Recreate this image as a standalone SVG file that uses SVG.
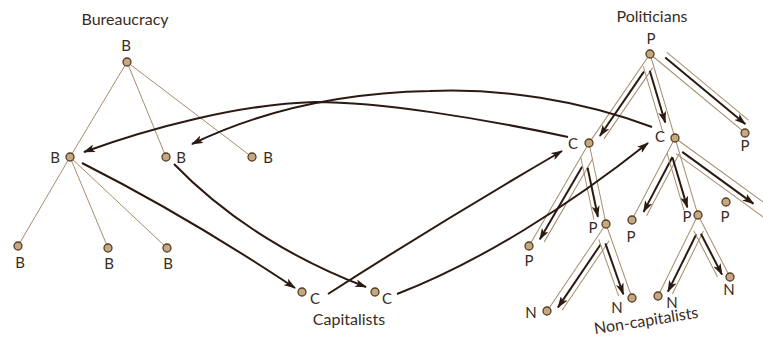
<svg xmlns="http://www.w3.org/2000/svg" width="763" height="338" viewBox="0 0 763 338">
<defs>
<marker id="ah" viewBox="0 0 12 8" refX="11" refY="4" markerWidth="12" markerHeight="8" markerUnits="userSpaceOnUse" orient="auto">
<path d="M0,0 L12,4 L0,8 L3,4 z" fill="#2b1a12"/>
</marker>
<style>
.thin{stroke:#a68d6c;stroke-width:1;fill:none}
.arr{stroke:#2b1a12;stroke-width:2;fill:none;marker-end:url(#ah)}
.nd{fill:#c3a982;stroke:#5a3c22;stroke-width:1.3}
text{font-family:Lato,"Open Sans","Liberation Sans",sans-serif;fill:#3b2c22;font-size:15px;text-anchor:middle}
.ttl{font-size:16px}
</style>
</defs>
<rect width="763" height="338" fill="#fff"/>

<g id="connectors">
<!-- bureaucracy tree -->
<line class="thin" x1="127" y1="62" x2="70" y2="157"/>
<line class="thin" x1="127" y1="62" x2="166" y2="157"/>
<line class="thin" x1="127" y1="62" x2="252" y2="157"/>
<line class="thin" x1="70" y1="157" x2="18" y2="246"/>
<line class="thin" x1="70" y1="157" x2="108" y2="248"/>
<line class="thin" x1="70" y1="157" x2="167" y2="248"/>
<!-- politician tree (tubes with arrows) -->
<g transform="translate(650,54) rotate(124.4)">
<line class="thin" x1="0" y1="0" x2="108" y2="0"/><line class="thin" x1="10" y1="-10" x2="96" y2="-10"/><line class="arr" x1="18" y1="-5" x2="96" y2="-5"/></g>
<g transform="translate(650,54) rotate(73.4)">
<line class="thin" x1="0" y1="0" x2="88" y2="0"/><line class="thin" x1="10" y1="10" x2="78" y2="10"/><line class="arr" x1="16" y1="5" x2="70" y2="5"/></g>
<g transform="translate(650,54) rotate(39.7)">
<line class="thin" x1="0" y1="0" x2="124" y2="0"/><line class="thin" x1="12" y1="-12" x2="118" y2="-12"/><line class="arr" x1="14" y1="-7" x2="118" y2="-7"/></g>
<g transform="translate(589,143) rotate(120.2)">
<line class="thin" x1="0" y1="0" x2="119" y2="0"/><line class="thin" x1="12" y1="-11" x2="108" y2="-11"/><line class="arr" x1="24" y1="-6" x2="108" y2="-6"/></g>
<g transform="translate(589,143) rotate(78.1)">
<line class="thin" x1="0" y1="0" x2="83" y2="0"/><line class="thin" x1="12" y1="11" x2="76" y2="11"/><line class="arr" x1="24" y1="6.5" x2="74" y2="6.5"/></g>
<g transform="translate(675,138) rotate(117.7)">
<line class="thin" x1="0" y1="0" x2="93" y2="0"/><line class="thin" x1="12" y1="-11" x2="82" y2="-11"/><line class="arr" x1="18" y1="-6.5" x2="80" y2="-6.5"/></g>
<g transform="translate(675,138) rotate(73.4)">
<line class="thin" x1="0" y1="0" x2="80" y2="0"/><line class="thin" x1="12" y1="12" x2="72" y2="12"/><line class="arr" x1="18" y1="8" x2="70" y2="8"/></g>
<g transform="translate(675,138) rotate(36)">
<line class="thin" x1="0" y1="0" x2="120" y2="0"/><line class="thin" x1="10" y1="12" x2="120" y2="12"/><line class="arr" x1="14" y1="7" x2="102" y2="7"/></g>
<g transform="translate(606,224) rotate(124.1)">
<line class="thin" x1="0" y1="0" x2="105" y2="0"/><line class="thin" x1="12" y1="-12" x2="96" y2="-12"/><line class="arr" x1="20" y1="-7" x2="96" y2="-7"/></g>
<g transform="translate(606,224) rotate(70.6)">
<line class="thin" x1="0" y1="0" x2="78" y2="0"/><line class="thin" x1="12" y1="12" x2="72" y2="12"/><line class="arr" x1="18" y1="7" x2="72" y2="7"/></g>
<g transform="translate(698,215) rotate(116.3)">
<line class="thin" x1="0" y1="0" x2="90" y2="0"/><line class="thin" x1="12" y1="-12" x2="82" y2="-12"/><line class="arr" x1="18" y1="-7" x2="82" y2="-7"/></g>
<g transform="translate(698,215) rotate(62.7)">
<line class="thin" x1="0" y1="0" x2="70" y2="0"/><line class="thin" x1="12" y1="11" x2="64" y2="11"/><line class="arr" x1="18" y1="6" x2="64" y2="6"/></g>
<!-- cross-group arrows -->
<path class="arr" d="M568,137 C480,118 380,102 315,102 C240,104 150,128 84,152"/>
<path class="arr" d="M652,127 C580,100 500,88 430,91 C330,93 250,116 192,144"/>
<path class="arr" d="M82,163 Q185,215 295,288"/>
<path class="arr" d="M174,164 C230,222 300,262 366,287"/>
<path class="arr" d="M328,294 Q440,222 562,151"/>
<path class="arr" d="M397,294 C480,262 570,205 648,143"/>
</g>

<g id="bureaucracy-label"><text class="ttl" x="125" y="25">Bureaucracy</text></g>
<g id="b-top"><circle class="nd" cx="127" cy="62" r="4"/><text x="126" y="51">B</text></g>
<g id="b-mid1"><circle class="nd" cx="70" cy="157" r="4"/><text x="55" y="163">B</text></g>
<g id="b-mid2"><circle class="nd" cx="166" cy="157" r="4"/><text x="181" y="163">B</text></g>
<g id="b-mid3"><circle class="nd" cx="252" cy="157" r="4"/><text x="268" y="163">B</text></g>
<g id="b-low1"><circle class="nd" cx="18" cy="246" r="4"/><text x="20" y="268">B</text></g>
<g id="b-low2"><circle class="nd" cx="108" cy="248" r="4"/><text x="109" y="269">B</text></g>
<g id="b-low3"><circle class="nd" cx="167" cy="248" r="4"/><text x="168" y="269">B</text></g>

<g id="c-cap1"><circle class="nd" cx="302" cy="292" r="4"/><text x="315" y="304">C</text></g>
<g id="c-cap2"><circle class="nd" cx="375" cy="292" r="4"/><text x="387" y="304">C</text></g>
<g id="capitalists-label"><text class="ttl" x="349" y="325">Capitalists</text></g>

<g id="politicians-label"><text class="ttl" x="652" y="22">Politicians</text></g>
<g id="p-top"><circle class="nd" cx="650" cy="54" r="4"/><text x="651" y="44">P</text></g>
<g id="c-pol1"><circle class="nd" cx="589" cy="143" r="4"/><text x="573" y="149">C</text></g>
<g id="c-pol2"><circle class="nd" cx="675" cy="138" r="4"/><text x="660" y="142">C</text></g>
<g id="p-right"><circle class="nd" cx="745" cy="133" r="4"/><text x="745" y="151">P</text></g>
<g id="p-1"><circle class="nd" cx="529" cy="246" r="4"/><text x="529" y="266">P</text></g>
<g id="p-2"><circle class="nd" cx="606" cy="224" r="4"/><text x="593" y="233">P</text></g>
<g id="p-3"><circle class="nd" cx="632" cy="220" r="4"/><text x="631" y="242">P</text></g>
<g id="p-4"><circle class="nd" cx="698" cy="215" r="4"/><text x="687" y="222">P</text></g>
<g id="p-5"><circle class="nd" cx="726" cy="202" r="4"/><text x="725" y="222">P</text></g>
<g id="n-1"><circle class="nd" cx="547" cy="311" r="4"/><text x="531" y="318">N</text></g>
<g id="n-2"><circle class="nd" cx="632" cy="298" r="4"/><text x="617" y="313">N</text></g>
<g id="n-3"><circle class="nd" cx="658" cy="296" r="4"/><text x="672" y="308">N</text></g>
<g id="n-4"><circle class="nd" cx="730" cy="277" r="4"/><text x="729" y="295">N</text></g>
<g id="noncap-label"><text class="ttl" x="647" y="326" transform="rotate(-9 647 326)">Non-capitalists</text></g>
</svg>
